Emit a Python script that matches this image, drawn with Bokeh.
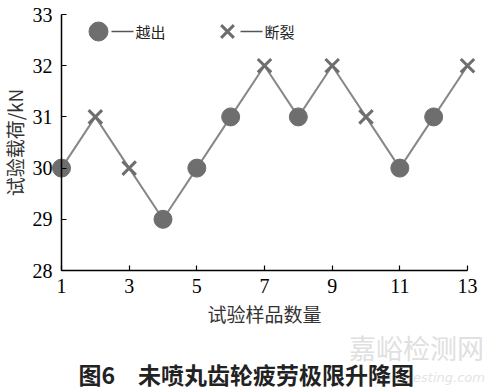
from bokeh.plotting import figure
from bokeh.models import Range1d, FixedTicker
from bokeh.embed import file_html
from bokeh.resources import INLINE
from bokeh.core.properties import value

# data
samples = [1, 2, 3, 4, 5, 6, 7, 8, 9, 10, 11, 12, 13]
loads = [30, 31, 30, 29, 30, 31, 32, 31, 32, 31, 30, 31, 32]
kinds = ["越出", "断裂", "断裂", "越出", "越出", "越出", "断裂", "越出", "断裂", "断裂", "越出", "越出", "断裂"]
x_ticks = [1, 3, 5, 7, 9, 11, 13]
y_ticks = [28, 29, 30, 31, 32, 33]
legend_names = ["越出", "断裂"]
x_label = "试验样品数量"
y_label = "试验载荷/kN"
caption = "图6　未喷丸齿轮疲劳极限升降图"
watermark = "嘉峪检测网"
watermark2 = "anytesting.com"

W, H = 497, 390
X0, X1, Y0, Y1 = 1, 13, 28, 33
AX_L, AX_R, AX_T, AX_B = 61, 467, 14, 270   # axis pixel positions
sx = (AX_R - AX_L) / (X1 - X0)
sy = (AX_B - AX_T) / (Y1 - Y0)
xr = Range1d(X0 - AX_L / sx, X1 + (W - AX_R) / sx)
yr = Range1d(Y0 - (H - AX_B) / sy, Y1 + AX_T / sy)

def px2x(px):
    return X0 + (px - AX_L) / sx

def py2y(py):
    return Y0 + (AX_B - py) / sy

p = figure(width=W, height=H, output_backend="svg", toolbar_location=None,
           x_range=xr, y_range=yr,
           min_border=0, min_border_left=0, min_border_right=0,
           min_border_top=0, min_border_bottom=0)
p.outline_line_color = None
p.grid.visible = False
p.background_fill_color = "white"
p.border_fill_color = "white"

serif = "Liberation Serif"
for ax in (p.xaxis[0], p.yaxis[0]):
    ax.axis_line_color = "black"
    ax.axis_line_width = 1.5
    ax.major_tick_line_color = "black"
    ax.major_tick_line_width = 1.2
    ax.major_tick_in = 5
    ax.major_tick_out = 0
    ax.minor_tick_line_color = None
    ax.major_label_text_font = serif
    ax.major_label_text_font_size = "20px"
    ax.major_label_text_color = "black"
    ax.axis_label_text_font = "Noto Sans CJK SC"
    ax.axis_label_text_font_size = "19px"
    ax.axis_label_text_font_style = "normal"
    ax.axis_label_text_color = "#333333"

p.xaxis.ticker = FixedTicker(ticks=x_ticks)
p.yaxis.ticker = FixedTicker(ticks=y_ticks)
p.xaxis.bounds = (X0, X1)
p.yaxis.bounds = (Y0, Y1)
p.yaxis.fixed_location = X0
p.xaxis.fixed_location = Y0
p.xaxis.axis_label = x_label
p.yaxis.axis_label = y_label
p.xaxis.major_label_standoff = 8
p.yaxis.major_label_standoff = 9
p.xaxis.axis_label_standoff = 4
p.yaxis.axis_label_standoff = 2

line_col = "#878787"
mark_col = "#6e6e6e"

p.line(samples, loads, line_color=line_col, line_width=2)

cx = [s for s, k in zip(samples, kinds) if k == legend_names[0]]
cy = [v for v, k in zip(loads, kinds) if k == legend_names[0]]
xx = [s for s, k in zip(samples, kinds) if k == legend_names[1]]
xy = [v for v, k in zip(loads, kinds) if k == legend_names[1]]

p.scatter(cx, cy, marker="circle", size=18, fill_color=mark_col, line_color=mark_col)
p.scatter(xx, xy, marker="x", size=19, line_color=mark_col, line_width=3)

# legend (manual)
ly = py2y(31)
p.scatter([px2x(98)], [ly], marker="circle", size=19, fill_color=mark_col, line_color=mark_col)
p.segment([px2x(111)], [ly], [px2x(133)], [ly], line_color="#555555", line_width=1.5)
p.text([px2x(135)], [ly], text=[legend_names[0]], text_font=value("Noto Sans CJK SC"),
       text_font_size="15px", text_baseline="middle", text_color="#222222")
p.scatter([px2x(227)], [ly], marker="x", size=18, line_color=mark_col, line_width=3)
p.segment([px2x(240)], [ly], [px2x(262)], [ly], line_color="#555555", line_width=1.5)
p.text([px2x(264)], [ly], text=[legend_names[1]], text_font=value("Noto Sans CJK SC"),
       text_font_size="15px", text_baseline="middle", text_color="#222222")

# watermark and caption
p.text([px2x(416)], [py2y(347)], text=[watermark], text_font=value("Noto Sans CJK SC"),
       text_font_size="27px", text_color="#e0e0e0", text_align="center",
       text_baseline="middle")
p.text([px2x(434)], [py2y(377)], text=[watermark2], text_font=value("DejaVu Sans"),
       text_font_size="13px", text_font_style="italic", text_color="#e4e4e4",
       text_align="center", text_baseline="middle")
p.text([px2x(78)], [py2y(373)], text=[caption], text_font=value("Noto Sans CJK SC"),
       text_font_size="23px", text_font_style="bold", text_color="#222222",
       text_align="left", text_baseline="middle")

open("out.html", "w").write(file_html(p, INLINE))
